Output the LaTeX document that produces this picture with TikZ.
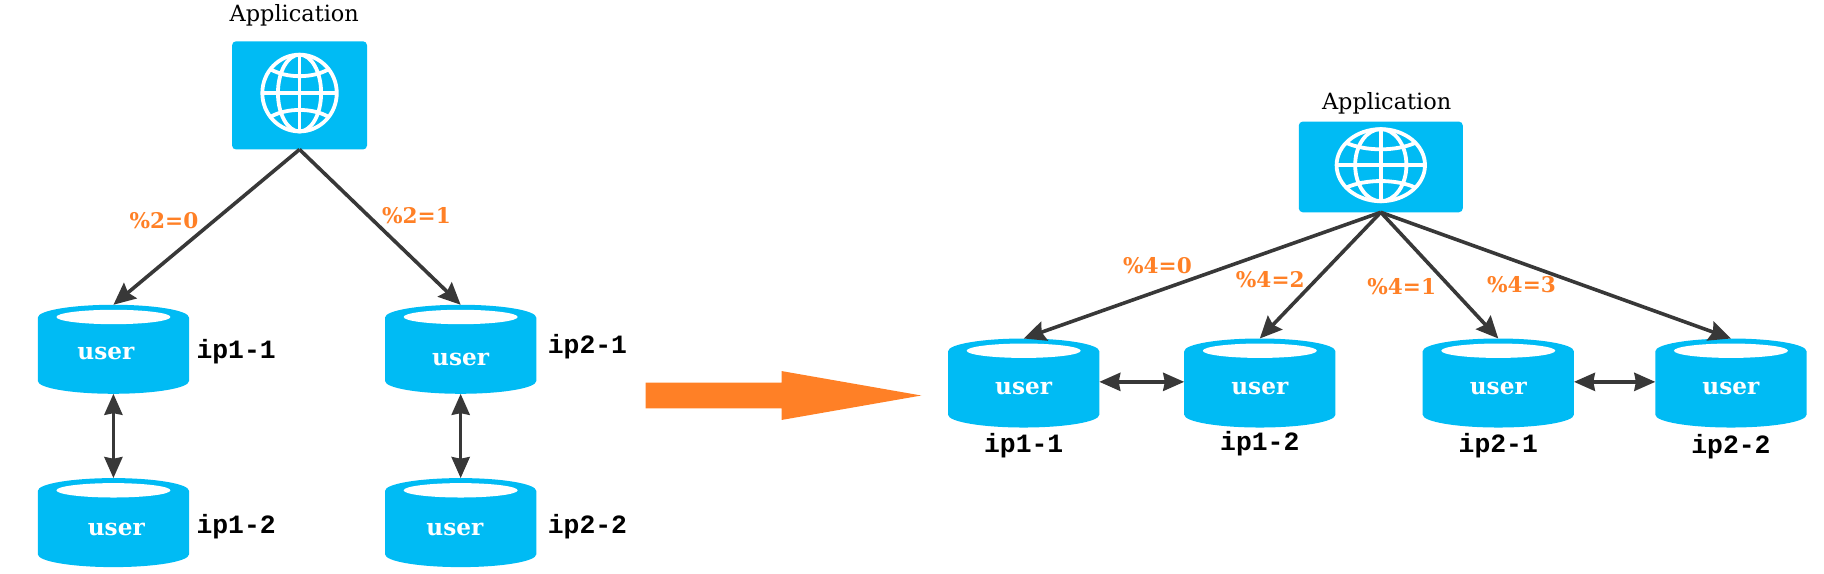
\documentclass[tikz,border=0pt]{standalone}
\usepackage{fontspec}
\setmainfont{DejaVu Serif}
\setmonofont{Liberation Mono}
\usetikzlibrary{arrows.meta,calc}
\definecolor{azure}{HTML}{00BBF4}
\definecolor{hot}{HTML}{FF8026}
\definecolor{ink}{HTML}{383838}
\tikzset{
  x=0.5816pt,y=-0.5816pt,
  link/.style={draw=ink,line width=1.8pt,-{Stealth[length=11pt,width=10pt,inset=1.5pt]}},
  biglink/.style={draw=ink,line width=1.8pt,{Stealth[length=10.5pt,width=9pt,inset=0.8pt]}-{Stealth[length=10.5pt,width=9pt,inset=0.8pt]}},
  appbox/.style={fill=azure,rounded corners=2pt,inner sep=0pt,outer sep=0pt},
  dbbox/.style={inner sep=0pt,outer sep=0pt,minimum width=75.6pt,minimum height=44.5pt},
  dbtext/.style={text=white,font=\fontsize{11.6}{12}\selectfont\bfseries},
  iptext/.style={text=black,font=\fontsize{13.2}{14}\ttfamily\bfseries},
  apptext/.style={text=black,font=\fontsize{11.2}{12}\selectfont},
  pct/.style={text=hot,font=\fontsize{10.8}{12}\selectfont\bfseries},
}
% name, centre x, top y, user centre x, user y
\newcommand{\dbcyl}[5]{%
  \node[dbbox,anchor=north] (#1) at (#2,#3) {};
  \fill[azure] ($(#1.north west)+(0,11)$) arc[start angle=180,end angle=0,x radius=37.8pt,y radius=6.4pt]
     -- ($(#1.south east)+(0,-11)$) arc[start angle=0,end angle=-180,x radius=37.8pt,y radius=6.4pt] -- cycle;
  \fill[white] ($(#1.north)+(0,10.5)$) ellipse[x radius=28.5pt,y radius=3.6pt];
  \node[dbtext] (#1t) at (#4,#5) {user};
}
% name, centre x, centre y, width, height, globe rx, globe ry, globe centre y
\newcommand{\appglobe}[8]{%
  \node[appbox,minimum width=#4*0.5816pt,minimum height=#5*0.5816pt] (#1) at (#2,#3) {};
  \begin{scope}[shift={(#2,#8)},white,line width=1.9pt,x=#6*0.5816pt,y=#7*0.5816pt]
    \draw (0,0) circle[radius=1];
    \draw (0,0) ellipse[x radius=0.58,y radius=1];
    \draw (-1,0) -- (1,0);
    \draw (0,-1) -- (0,1);
    \draw (-0.78,-0.62) .. controls (-0.35,-0.38) and (0.35,-0.38) .. (0.78,-0.62);
    \draw (-0.78,0.62) .. controls (-0.35,0.38) and (0.35,0.38) .. (0.78,0.62);
  \end{scope}
}
\begin{document}
\begin{tikzpicture}
\useasboundingbox (0,0) rectangle (1568,493.4);
\appglobe{appa}{257.5}{82}{116}{93}{32}{33}{80}
\appglobe{appb}{1187}{143.5}{141}{78}{38}{31}{142}
\node[apptext] (appat) at (253,13) {Application};
\node[apptext] (appbt) at (1192,89) {Application};

\dbcyl{a}{97.5}{262}{91}{304}
\dbcyl{b}{396}{262}{396}{309}
\dbcyl{c}{97.5}{411}{100}{455}
\dbcyl{d}{396}{411}{391}{455}
\dbcyl{e}{880}{291}{880}{334}
\dbcyl{f}{1083}{291}{1083}{334}
\dbcyl{g}{1288}{291}{1288}{334}
\dbcyl{h}{1488}{291}{1488}{334}

\node[iptext] (ipa) at (203,302) {ip1-1};
\node[iptext] (ipb) at (505,298) {ip2-1};
\node[iptext] (ipc) at (203,453) {ip1-2};
\node[iptext] (ipd) at (505,453) {ip2-2};
\node[iptext] (ipe) at (880,383) {ip1-1};
\node[iptext] (ipf) at (1083,381) {ip1-2};
\node[iptext] (ipg) at (1288,383) {ip2-1};
\node[iptext] (iph) at (1488,384) {ip2-2};

\draw[link] (appa.south) -- (a.north);
\draw[link] (appa.south) -- (b.north);
\draw[biglink] (a.south) -- (c.north);
\draw[biglink] (b.south) -- (d.north);
\draw[link] (appb.south) -- (e.north);
\draw[link] (appb.south) -- (f.north);
\draw[link] (appb.south) -- (g.north);
\draw[link] (appb.south) -- (h.north);
\draw[biglink] ($(e.east)+(0,-1)$) -- ($(f.west)+(0,-1)$);
\draw[biglink] ($(g.east)+(0,-1)$) -- ($(h.west)+(0,-1)$);

\node[pct] (pa) at (141,190) {\%2=0};
\node[pct] (pb) at (358,185) {\%2=1};
\node[pct] (pc) at (995,228) {\%4=0};
\node[pct] (pd) at (1092,240) {\%4=2};
\node[pct] (pe) at (1205,246) {\%4=1};
\node[pct] (pf) at (1308,245) {\%4=3};

\fill[hot] (555,329) -- (672,329) -- (672,319) -- (792,340) -- (672,361) -- (672,351) -- (555,351) -- cycle;
\end{tikzpicture}
\end{document}
